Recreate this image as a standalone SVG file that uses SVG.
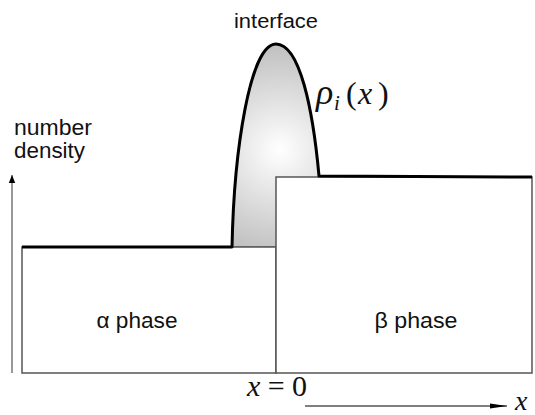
<svg xmlns="http://www.w3.org/2000/svg" width="535" height="415" viewBox="0 0 535 415">
<style>
.lbl{font-family:"Liberation Sans",Arial,sans-serif;fill:#111;}
.math{font-family:"Liberation Serif","Times New Roman",serif;fill:#111;}
.box{fill:#fff;stroke:#555;stroke-width:1.5;}
.thick{fill:none;stroke:#000;stroke-width:3;stroke-linejoin:round;}
</style>
<defs>
<radialGradient id="g" cx="280" cy="150" r="110" gradientUnits="userSpaceOnUse">
<stop offset="0" stop-color="#ffffff"/>
<stop offset="1" stop-color="#bdbdbd"/>
</radialGradient>
<marker id="ah" viewBox="0 0 10 10" refX="10" refY="5" markerWidth="8" markerHeight="8" markerUnits="userSpaceOnUse" orient="auto">
<path d="M0,1 L10,5 L0,9 z" fill="#000"/>
</marker>
<marker id="ah2" viewBox="0 0 10 10" refX="10" refY="5" markerWidth="17" markerHeight="8" markerUnits="userSpaceOnUse" orient="auto" preserveAspectRatio="none">
<path d="M0,2 L10,5 L0,8 z" fill="#000"/>
</marker>
</defs>
<g id="interface">
<path d="M232,247 C234,150 250,44 276,44 C300,44 313,110 319,176 L319,247 Z" fill="url(#g)"/>
<line x1="232" y1="247" x2="276" y2="247" stroke="#777" stroke-width="1.5"/>
</g>
<g id="alpha-phase">
<rect class="box" x="22" y="247" width="254" height="126"/>
<text class="lbl" x="137" y="328" font-size="22" text-anchor="middle" textLength="81" lengthAdjust="spacingAndGlyphs">α phase</text>
</g>
<g id="beta-phase">
<rect class="box" x="276" y="177" width="256" height="196"/>
<text class="lbl" x="416" y="328" font-size="22" text-anchor="middle" textLength="83" lengthAdjust="spacingAndGlyphs">β phase</text>
</g>
<g id="connectors">
<path class="thick" d="M22,247 L232,247 C234,150 250,44 276,44 C300,44 313,110 319,176 L532,177"/>
<line x1="12" y1="373" x2="12" y2="175" stroke="#777" stroke-width="1.5" marker-end="url(#ah)"/>
<line x1="305" y1="406" x2="507" y2="406" stroke="#000" stroke-width="1" marker-end="url(#ah2)"/>
</g>
<g id="labels">
<text class="lbl" x="276" y="28" font-size="20" text-anchor="middle" textLength="84" lengthAdjust="spacingAndGlyphs">interface</text>
<text class="lbl" x="14" y="135" font-size="22" textLength="78" lengthAdjust="spacingAndGlyphs">number</text>
<text class="lbl" x="14" y="158" font-size="22" textLength="71" lengthAdjust="spacingAndGlyphs">density</text>
<text class="math" x="316" y="104" font-size="32"><tspan font-style="italic" font-size="36">ρ</tspan><tspan font-style="italic" font-size="21" x="334" dy="6">i</tspan><tspan x="346" dy="-6">(</tspan><tspan font-style="italic" x="358">x</tspan><tspan x="378">)</tspan></text>
<text class="math" x="277" y="396" font-size="30" text-anchor="middle"><tspan font-style="italic">x</tspan> = 0</text>
<text class="math" x="515" y="410" font-size="28" font-style="italic">x</text>
</g>
</svg>
